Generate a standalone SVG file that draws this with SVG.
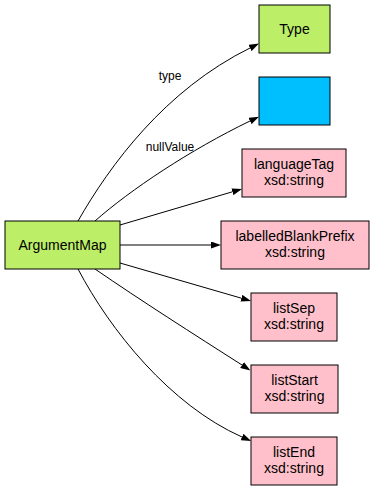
<svg xmlns="http://www.w3.org/2000/svg" width="373" height="491" viewBox="0 0 373 491">
<style>
.n{stroke:#000;stroke-width:1}
.g{fill:#bcee68}
.b{fill:#00bfff}
.p{fill:#ffc0cb}
text{font-family:"Liberation Sans",Arial,sans-serif;fill:#000;text-anchor:middle}
.t{font-size:14px}
.l{font-size:12px}
.e path{fill:none;stroke:#000;stroke-width:1;marker-end:url(#a)}
</style>
<defs>
<marker id="a" markerUnits="userSpaceOnUse" markerWidth="10" markerHeight="7" refX="0" refY="3.5" orient="auto">
<path d="M0,0 L10,3.5 L0,7 z" fill="#000"/>
</marker>
</defs>
<g class="e" id="edges">
<path d="M78,221 C110,165 165,90 250,48"/>
<path d="M95,221 C130,190 190,150 250,121"/>
<path d="M120,225 L232.4,191.8"/>
<path d="M120,245 L211,245"/>
<path d="M120,263 L241.4,298.2"/>
<path d="M95,269 C140,300 195,335 242,365"/>
<path d="M78,269 C110,330 170,405 242,437"/>
<text class="l" x="170" y="80">type</text>
<text class="l" x="170" y="151">nullValue</text>
</g>
<g id="ArgumentMap"><rect class="n g" x="5" y="221" width="115" height="48"/><text class="t" x="62.5" y="250">ArgumentMap</text></g>
<g id="Type"><rect class="n g" x="259" y="5" width="71" height="48"/><text class="t" x="294.5" y="34">Type</text></g>
<g id="Blank"><rect class="n b" x="259" y="77" width="71" height="48"/></g>
<g id="languageTag"><rect class="n p" x="242" y="149" width="104" height="48"/><text class="t" x="294" y="169">languageTag</text><text class="t" x="294" y="185">xsd:string</text></g>
<g id="labelledBlankPrefix"><rect class="n p" x="221" y="221" width="148" height="48"/><text class="t" x="295" y="241">labelledBlankPrefix</text><text class="t" x="295" y="257">xsd:string</text></g>
<g id="listSep"><rect class="n p" x="251" y="293" width="86" height="48"/><text class="t" x="294" y="313">listSep</text><text class="t" x="294" y="329">xsd:string</text></g>
<g id="listStart"><rect class="n p" x="251" y="365" width="87" height="48"/><text class="t" x="294.5" y="385">listStart</text><text class="t" x="294.5" y="401">xsd:string</text></g>
<g id="listEnd"><rect class="n p" x="251" y="437" width="86" height="48"/><text class="t" x="294" y="457">listEnd</text><text class="t" x="294" y="473">xsd:string</text></g>
</svg>
